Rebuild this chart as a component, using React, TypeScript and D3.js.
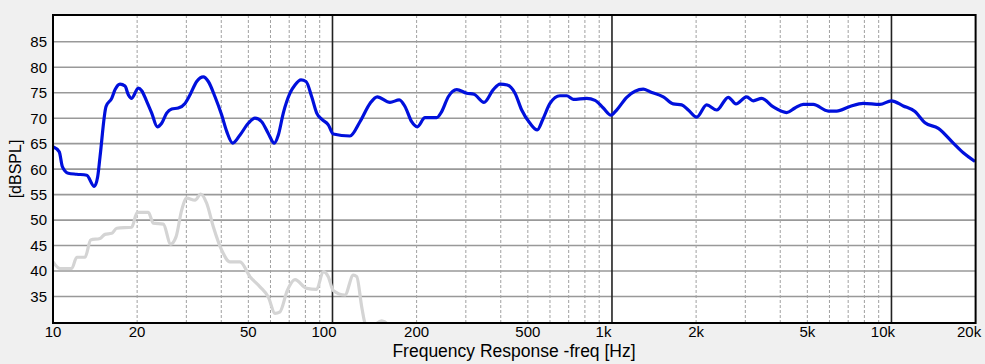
import * as d3 from 'd3';

// blue: response
const blueFreq = [10.0, 10.53, 10.8, 11.34, 12.16, 13.2, 14.05, 14.45, 14.73, 15.48, 16.22, 16.67, 17.37, 18.1, 18.6, 19.12, 20.19, 20.77, 21.64, 22.55, 23.62, 24.48, 25.51, 26.59, 28.07, 29.67, 30.93, 32.67, 34.5, 35.95, 37.99, 40.14, 41.83, 43.95, 46.68, 49.98, 52.81, 55.8, 58.92, 61.9, 64.0, 66.68, 70.46, 73.42, 77.15, 80.4, 84.27, 87.81, 91.51, 96.6, 100.6, 115.5, 125.4, 136.2, 144.6, 160.6, 173.4, 181.7, 192.0, 201.1, 214.3, 235.9, 245.9, 259.6, 278.3, 302.1, 320.8, 348.4, 376.2, 397.5, 422.2, 449.8, 475.3, 508.9, 540.4, 565.0, 600.0, 651.6, 688.5, 726.9, 812, 869.5, 931, 991.8, 1039, 1129, 1294, 1368, 1526, 1657, 1776, 1875, 2009, 2182, 2370, 2607, 2777, 3033, 3203, 3433, 3777, 4217, 4515, 4836, 5251, 5941, 6366, 7105, 7929, 9096, 9985, 11020, 12140, 13180, 14710, 16640, 18070, 19900];
const blueDb = [64.4, 63.4, 60.5, 59.2, 59.0, 58.8, 56.6, 58.5, 62.4, 72.3, 73.9, 75.6, 76.7, 76.3, 74.6, 73.9, 75.9, 75.4, 73.3, 71.0, 68.3, 69.0, 71.0, 71.8, 72.0, 72.9, 74.6, 77.2, 78.1, 77.2, 74.2, 70.6, 67.4, 65.1, 66.7, 69.0, 70.0, 69.3, 67.0, 65.1, 66.7, 71.0, 74.9, 76.5, 77.5, 77.2, 74.2, 71.0, 69.8, 68.7, 66.9, 66.5, 69.3, 72.9, 74.2, 73.1, 73.6, 72.3, 69.3, 68.3, 70.1, 70.1, 71.3, 74.2, 75.6, 74.9, 74.7, 73.1, 75.6, 76.7, 76.5, 74.9, 71.6, 69.0, 67.7, 69.7, 72.9, 74.4, 74.4, 73.7, 73.9, 73.5, 72.0, 70.6, 71.6, 74.1, 75.7, 75.2, 74.2, 72.8, 72.6, 71.6, 70.2, 72.6, 71.6, 74.1, 72.8, 74.2, 73.4, 73.9, 72.2, 71.1, 72.0, 72.7, 72.7, 71.4, 71.4, 72.3, 72.9, 72.7, 73.4, 72.4, 71.3, 69.1, 68.0, 65.1, 63.2, 61.5];

// gray: distortion / noise trace
const grayFreq = [10.0, 10.59, 11.67, 12.16, 13.02, 13.64, 14.73, 15.35, 16.22, 16.9, 19.12, 20.02, 21.93, 22.85, 24.81, 26.37, 27.55, 28.88, 30.09, 32.22, 33.77, 35.47, 37.46, 40.14, 42.98, 46.68, 50.68, 55.03, 58.92, 62.26, 64.89, 68.93, 73.42, 80.86, 87.81, 92.7, 96.6, 100.6, 110.8, 118.7, 122.1, 127.2, 130.8, 136.2, 143.0, 150.0, 158.0, 167.3];
const grayDb = [41.8, 40.5, 40.5, 42.7, 42.7, 46.1, 46.4, 47.2, 47.4, 48.4, 48.6, 51.5, 51.5, 49.4, 49.2, 45.3, 46.7, 52.0, 54.3, 53.9, 55.1, 53.3, 48.7, 44.1, 41.8, 41.8, 38.9, 36.9, 34.9, 31.7, 32.0, 36.2, 38.3, 36.6, 36.4, 39.9, 38.9, 36.2, 35.3, 39.2, 38.9, 33.0, 29.7, 28.5, 29.6, 30.2, 29.5, 27.0];

const yTicks = [35, 40, 45, 50, 55, 60, 65, 70, 75, 80, 85];
const xLabelVals = [10, 20, 50, 100, 200, 500, 1000, 2000, 5000, 10000, 20000];
const xLabelText = ['10', '20', '50', '100', '200', '500', '1k', '2k', '5k', '10k', '20k'];
const decades = [100, 1000, 10000];
const minorMults = [2, 3, 4, 5, 6, 7, 8, 9];

const W = 985;
const H = 364;
const L = 53, R = 975.6, T = 15, B = 323;
const FONT = '"Liberation Sans", Arial, sans-serif';

export default function App() {
  const x = d3.scaleLog().domain([10, 20000]).range([L, R]);
  const y = d3.scaleLinear().domain([29.8, 90.25]).range([B, T]);

  const minors: number[] = [];
  [10, 100, 1000, 10000].forEach(d => minorMults.forEach(m => { if (d * m < 20000) minors.push(d * m); }));

  const curve = d3.line<[number, number]>()
    .x(d => x(d[0]))
    .y(d => y(d[1]))
    .curve(d3.curveMonotoneX);

  const bluePath = curve(blueFreq.map((f, i) => [f, blueDb[i]]));
  const grayPath = curve(grayFreq.map((f, i) => [f, grayDb[i]]));

  // decade labels sit a little left of their line in the original
  const labelShift = (v: number) => (v === 100 || v === 1000 || v === 10000 ? -8.5 : v === 20000 ? -6.5 : 0);

  return (
    <div style={{ position: 'absolute', left: 0, top: 0 }}>
      <svg width={W} height={H} style={{ display: 'block', fontFamily: FONT }}>
        <rect x={0} y={0} width={W} height={H} fill="#f0f0f0" />
        <defs>
          <clipPath id="plot">
            <rect x={L} y={T} width={R - L} height={B - T} />
          </clipPath>
        </defs>
        <rect x={L} y={T} width={R - L} height={B - T} fill="#fff" />

        {yTicks.map(t => (
          <line key={'h' + t} x1={L} x2={R} y1={y(t)} y2={y(t)} stroke="#999" strokeWidth={1.6} />
        ))}
        {minors.map(m => (
          <line key={'m' + m} x1={x(m)} x2={x(m)} y1={T} y2={B} stroke="#a0a0a0" strokeWidth={1} strokeDasharray="3,2" />
        ))}
        {decades.map(d => (
          <line key={'d' + d} x1={x(d)} x2={x(d)} y1={T} y2={B} stroke="#222" strokeWidth={1.6} />
        ))}

        <g clipPath="url(#plot)">
          <path d={grayPath ?? ''} fill="none" stroke="#d4d4d4" strokeWidth={3.2} strokeLinejoin="round" />
          <path d={bluePath ?? ''} fill="none" stroke="#0010dc" strokeWidth={3.2} strokeLinejoin="round" />
        </g>

        <rect x={L} y={T} width={R - L} height={B - T} fill="none" stroke="#000" strokeWidth={2} />

        {yTicks.map(t => (
          <text key={'yl' + t} x={L - 6} y={y(t)} dy="0.36em" textAnchor="end" fontSize={15} fill="#000">{t}</text>
        ))}
        {xLabelVals.map((v, i) => (
          <text key={'xl' + v} x={x(v) + labelShift(v)} y={337} textAnchor="middle" fontSize={15} fill="#000">{xLabelText[i]}</text>
        ))}

        <text x={514} y={357} textAnchor="middle" fontSize={17.5} fill="#000">Frequency Response -freq [Hz]</text>
        <text transform={`translate(21,169) rotate(-90)`} textAnchor="middle" fontSize={16} fill="#000">[dBSPL]</text>
      </svg>
    </div>
  );
}
